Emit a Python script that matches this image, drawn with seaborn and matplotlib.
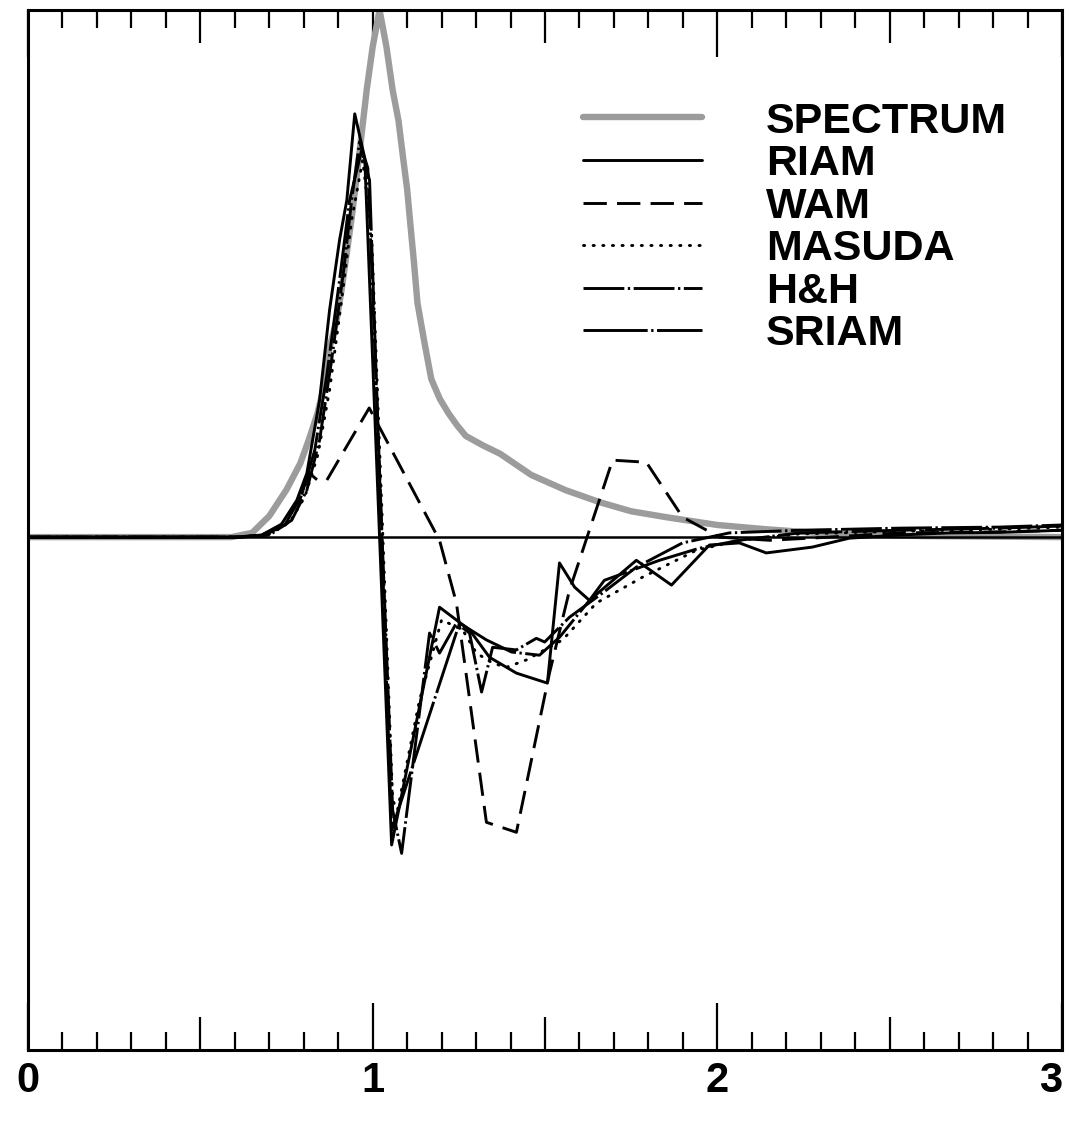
import matplotlib
matplotlib.use("Agg")
import matplotlib.pyplot as plt
import seaborn as sns
import pandas as pd

# ---------------- data ----------------
spec_x = [0.00, 0.50, 0.59, 0.65, 0.70, 0.75, 0.79, 0.815, 0.84, 0.86, 0.875, 0.895, 0.91,
          0.925, 0.94, 0.96, 0.983, 1.00, 1.02, 1.04, 1.058, 1.075, 1.088, 1.10, 1.109,
          1.12, 1.13, 1.15, 1.17, 1.195, 1.22, 1.245, 1.27, 1.32, 1.37, 1.46, 1.56, 1.66,
          1.75, 1.85, 2.00, 2.14, 2.33, 2.60, 3.00]
spec_y = [0.0, 0.0, 0.0, 0.008, 0.040, 0.090, 0.140, 0.185, 0.235, 0.29, 0.36, 0.41, 0.47,
          0.54, 0.61, 0.72, 0.85, 0.93, 1.0, 0.93, 0.848, 0.79, 0.721, 0.66, 0.596,
          0.52, 0.444, 0.37, 0.30, 0.262, 0.235, 0.212, 0.192, 0.174, 0.158, 0.118, 0.089, 0.066,
          0.049, 0.038, 0.023, 0.015, 0.006, 0.002, 0.0]

riam_x = [0.0, 0.60, 0.678, 0.730, 0.780, 0.809, 0.846, 0.875, 0.904, 0.925, 0.948, 0.977,
          1.055, 1.194, 1.281, 1.339, 1.417, 1.507, 1.542, 1.586, 1.629, 1.765, 1.867,
          1.977, 2.064, 2.142, 2.275, 2.383, 2.528, 2.672, 2.817, 3.0]
riam_y = [0.0, 0.0, 0.004, 0.019, 0.070, 0.121, 0.260, 0.431, 0.564, 0.639, 0.803, 0.719,
          -0.584, -0.133, -0.176, -0.228, -0.258, -0.277, -0.049, -0.095, -0.120, -0.044, -0.091,
          -0.015, -0.011, -0.030, -0.019, -0.002, 0.004, 0.008, 0.009, 0.013]

wam_x = [0.0, 0.614, 0.678, 0.745, 0.788, 0.817, 0.840, 0.867, 0.990, 1.194, 1.243, 1.330,
         1.417, 1.513, 1.571, 1.696, 1.794, 1.899, 2.006, 2.151, 2.325, 2.528, 2.817, 3.0]
wam_y = [0.0, 0.0, 0.004, 0.028, 0.070, 0.121, 0.108, 0.108, 0.245, -0.006, -0.125, -0.541,
         -0.560, -0.258, -0.101, 0.146, 0.142, 0.038, 0.0, -0.006, 0.0, 0.008, 0.010, 0.013]

masuda_x = [0.0, 0.62, 0.696, 0.759, 0.803, 0.841, 0.875, 0.910, 0.939, 0.971, 0.997,
            1.058, 1.072, 1.136, 1.200, 1.261, 1.301, 1.348, 1.388, 1.446, 1.551, 1.649,
            1.783, 1.939, 2.064, 2.238, 2.528, 2.817, 3.0]
masuda_y = [0.0, 0.0, 0.004, 0.028, 0.076, 0.156, 0.279, 0.450, 0.602, 0.715, 0.573,
            -0.499, -0.518, -0.309, -0.157, -0.176, -0.220, -0.239, -0.247, -0.233, -0.195, -0.125,
            -0.076, -0.025, -0.006, 0.006, 0.011, 0.015, 0.019]

hh_x = [0.0, 0.62, 0.701, 0.765, 0.809, 0.846, 0.881, 0.916, 0.939, 0.962, 0.986, 1.058,
        1.084, 1.165, 1.194, 1.243, 1.281, 1.316, 1.348, 1.417, 1.475, 1.499, 1.571, 1.667,
        1.765, 1.899, 2.035, 2.238, 2.528, 2.817, 3.0]
hh_y = [0.0, 0.0, 0.004, 0.032, 0.089, 0.184, 0.336, 0.507, 0.639, 0.750, 0.700, -0.518,
        -0.600, -0.182, -0.220, -0.163, -0.182, -0.294, -0.209, -0.214, -0.192, -0.199, -0.152, -0.106,
        -0.057, -0.011, 0.008, 0.013, 0.017, 0.019, 0.023]

sriam_x = [0.0, 0.61, 0.687, 0.745, 0.794, 0.832, 0.867, 0.904, 0.933, 0.968, 0.991, 1.055,
           1.252, 1.330, 1.403, 1.484, 1.542, 1.629, 1.672, 1.832, 1.948, 2.064, 2.238, 2.528,
           2.817, 3.0]
sriam_y = [0.0, 0.0, 0.004, 0.023, 0.080, 0.165, 0.307, 0.488, 0.639, 0.734, 0.677, -0.556,
           -0.163, -0.195, -0.218, -0.224, -0.190, -0.120, -0.082, -0.044, -0.021, -0.006, 0.008, 0.013,
           0.017, 0.021]

tick_values = [0, 1, 2, 3]
tick_labels = ["0", "1", "2", "3"]

# ---------------- styling ----------------
sns.set_style("white")
plt.rcParams["font.family"] = ["Liberation Sans", "DejaVu Sans"]
plt.rcParams["font.weight"] = "bold"
plt.rcParams["text.color"] = "black"
plt.rcParams["xtick.color"] = "black"

W, H = 1069, 1124
fig = plt.figure(figsize=(W / 100, H / 100), dpi=100)
ax = fig.add_axes([28 / W, 1 - 1050 / H, (1062 - 28) / W, (1050 - 10) / H])

lw = 2.1
series = [
    ("SPECTRUM", spec_x, spec_y, dict(color="#9c9c9c", lw=4.6, linestyle="-", zorder=2)),
    ("RIAM", riam_x, riam_y, dict(color="black", lw=lw, linestyle="-", zorder=3)),
    ("WAM", wam_x, wam_y, dict(color="black", lw=lw, linestyle=(0, (8, 3.5)), zorder=3)),
    ("MASUDA", masuda_x, masuda_y, dict(color="black", lw=lw, linestyle=(0, (0.4, 2.9)),
                                         dash_capstyle="round", zorder=3)),
    ("H&H", hh_x, hh_y, dict(color="black", lw=lw, linestyle=(0, (14, 1.2, 0.8, 1.2)), zorder=3)),
    ("SRIAM", sriam_x, sriam_y, dict(color="black", lw=lw, linestyle=(0, (22, 1.2, 0.8, 1.2)), zorder=3)),
]

for name, xs, ys, kw in series:
    df = pd.DataFrame({"x": xs, "y": ys})
    sns.lineplot(data=df, x="x", y="y", ax=ax, label=name, sort=False,
                 estimator=None, **kw)

ax.axhline(0, color="black", lw=1.8, zorder=4)

ax.set_xlim(0, 3)
ax.set_ylim(-0.973, 1.0)
ax.set_xlabel("")
ax.set_ylabel("")
ax.set_yticks([])

# half-unit ticks on a twin axis (created first so it does not reset ax's ticks)
ax2 = ax.twiny()
ax2.set_xlim(0, 3)
ax2.set_xticks([0.5, 1.5, 2.5])
ax2.xaxis.set_ticks_position("both")
ax2.tick_params(axis="x", which="major", direction="in", length=24, width=1.6,
                top=True, bottom=True, labeltop=False, labelbottom=False)
for s in ax2.spines.values():
    s.set_visible(False)

for s in ax.spines.values():
    s.set_visible(True)
    s.set_color("black")
    s.set_linewidth(2.2)

ax.xaxis.set_ticks_position("both")
ax.set_xticks(tick_values)
ax.set_xticklabels(tick_labels, fontsize=30, fontweight="bold", color="black")
ax.set_xticks([i / 10 for i in range(31) if i % 5 != 0], minor=True)
ax.tick_params(axis="x", which="major", direction="in", length=34, width=1.6,
               top=True, bottom=True, labeltop=False, labelbottom=True, pad=8)
ax.tick_params(axis="x", which="minor", direction="in", length=13, width=1.6,
               top=True, bottom=True)
# keep the last label ("3") inside the picture edge
last = ax.get_xticklabels()[-1]
last.set_horizontalalignment("right")

leg = ax.legend(loc="upper left", bbox_to_anchor=(0.537, 0.912), frameon=False,
                handlelength=2.75, handletextpad=1.5, labelspacing=0.06,
                borderpad=0, borderaxespad=0,
                prop={"weight": "bold", "size": 31})
for t in leg.get_texts():
    t.set_color("black")

fig.savefig("out.png", dpi=100)
